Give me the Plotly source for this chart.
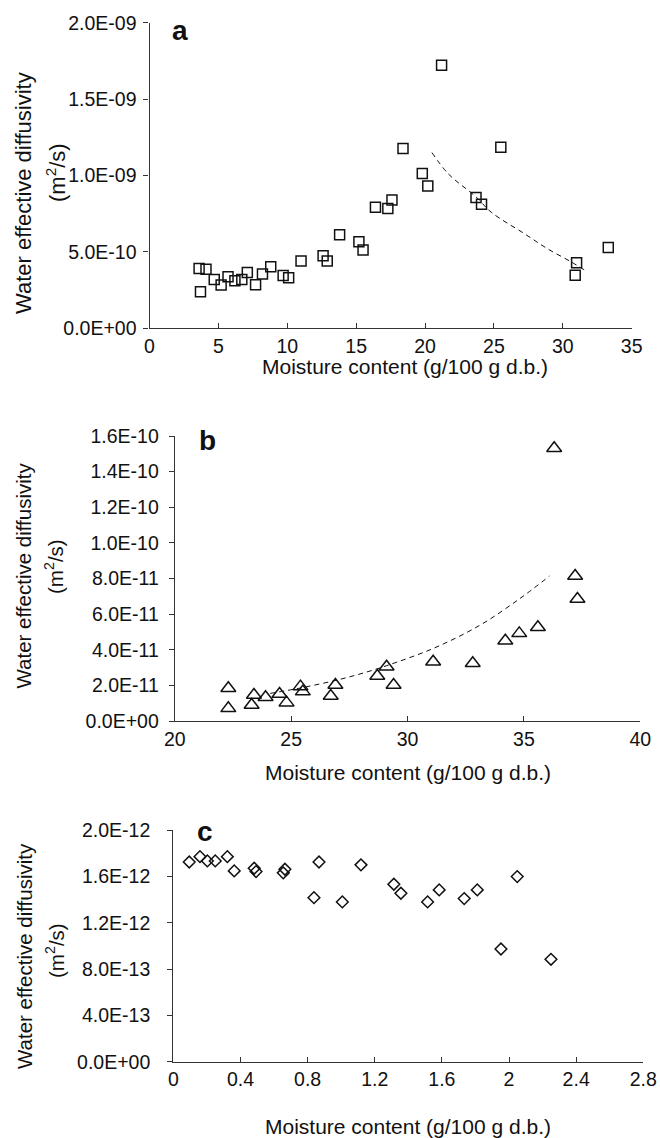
import plotly.graph_objects as go

# ---------------- data ----------------
# panel a
a_x = [3.6, 3.7, 4.1, 4.7, 5.2, 5.7, 6.2, 6.7, 7.1, 7.7, 8.2, 8.8, 9.7, 10.1, 11.0,
       12.6, 12.9, 13.8, 15.2, 15.5, 16.4, 17.3, 17.6, 18.4, 19.8, 20.2, 21.2,
       23.7, 24.1, 25.5, 30.9, 31.0, 33.3]
a_y = [3.92e-10, 2.39e-10, 3.86e-10, 3.20e-10, 2.83e-10, 3.37e-10, 3.11e-10, 3.20e-10,
       3.66e-10, 2.85e-10, 3.55e-10, 4.03e-10, 3.46e-10, 3.31e-10, 4.40e-10, 4.75e-10,
       4.40e-10, 6.12e-10, 5.66e-10, 5.12e-10, 7.93e-10, 7.84e-10, 8.39e-10, 1.176e-09,
       1.013e-09, 9.32e-10, 1.721e-09, 8.56e-10, 8.12e-10, 1.185e-09, 3.48e-10,
       4.29e-10, 5.29e-10]
a_fit_x = [20.5, 21.7, 23.7, 24.8, 27.2, 28.9, 30.6, 31.6]
a_fit_y = [1.15e-09, 1.01e-09, 8.6e-10, 7.6e-10, 6.2e-10, 5.2e-10, 4.35e-10, 3.8e-10]

# panel b
b_x = [22.3, 22.3, 23.4, 23.3, 23.9, 24.5, 24.8, 25.4, 25.5, 26.9, 26.7, 28.7, 29.1,
       29.4, 31.1, 32.8, 34.2, 34.8, 35.6, 36.3, 37.2, 37.3]
b_y = [1.84e-11, 0.71e-11, 1.46e-11, 0.90e-11, 1.33e-11, 1.52e-11, 1.03e-11, 1.93e-11,
       1.65e-11, 2.02e-11, 1.40e-11, 2.53e-11, 3.05e-11, 2.02e-11, 3.33e-11, 3.24e-11,
       4.51e-11, 4.92e-11, 5.26e-11, 1.531e-10, 8.14e-11, 6.85e-11]
b_fit_x = [24.1, 25.5, 27.1, 28.5, 29.2, 31.1, 33.1, 34.8, 36.1]
b_fit_y = [1.55e-11, 1.88e-11, 2.34e-11, 2.85e-11, 3.15e-11, 4.07e-11, 5.37e-11,
           6.85e-11, 8.14e-11]

# panel c
c_x = [0.095, 0.159, 0.203, 0.25, 0.322, 0.363, 0.482, 0.493, 0.655, 0.665, 0.868,
       0.838, 1.007, 1.118, 1.314, 1.356, 1.515, 1.584, 1.733, 1.811, 2.049, 1.952, 2.25]
c_y = [1.724e-12, 1.77e-12, 1.733e-12, 1.733e-12, 1.77e-12, 1.647e-12, 1.67e-12,
       1.641e-12, 1.63e-12, 1.661e-12, 1.724e-12, 1.416e-12, 1.379e-12, 1.699e-12,
       1.532e-12, 1.454e-12, 1.379e-12, 1.483e-12, 1.408e-12, 1.483e-12, 1.598e-12,
       0.973e-12, 0.884e-12]

# tick labels
a_xticks = [0, 5, 10, 15, 20, 25, 30, 35]
a_yticks = [0, 5e-10, 1e-09, 1.5e-09, 2e-09]
a_yticktext = ["0.0E+00", "5.0E-10", "1.0E-09", "1.5E-09", "2.0E-09"]
b_xticks = [20, 25, 30, 35, 40]
b_yticks = [0, 2e-11, 4e-11, 6e-11, 8e-11, 1e-10, 1.2e-10, 1.4e-10, 1.6e-10]
b_yticktext = ["0.0E+00", "2.0E-11", "4.0E-11", "6.0E-11", "8.0E-11", "1.0E-10",
               "1.2E-10", "1.4E-10", "1.6E-10"]
c_xticks = [0, 0.4, 0.8, 1.2, 1.6, 2.0, 2.4, 2.8]
c_xticktext = ["0", "0.4", "0.8", "1.2", "1.6", "2", "2.4", "2.8"]
c_yticks = [0, 4e-13, 8e-13, 1.2e-12, 1.6e-12, 2e-12]
c_yticktext = ["0.0E+00", "4.0E-13", "8.0E-13", "1.2E-12", "1.6E-12", "2.0E-12"]

x_title = "Moisture content (g/100 g d.b.)"
y_title1 = "Water effective diffusivity"
y_title2 = "(m<sup>2</sup>/s)"

# ---------------- figure ----------------
W, H = 660, 1138
FONT = "Liberation Sans, Arial, Helvetica, sans-serif"
INK = "#111111"
AX = "#333333"
TICK_SIZE = 19.5
TITLE_SIZE = 20.5
XTITLE_SIZE = 21

def px(xp):
    return xp / W

def py(yp):
    return 1 - yp / H

fig = go.Figure()

mk_line = dict(color=INK, width=1.5)
fig.add_trace(go.Scatter(x=a_x, y=a_y, mode="markers", xaxis="x", yaxis="y",
                         marker=dict(symbol="square-open", size=10, color=INK, line=mk_line)))
fig.add_trace(go.Scatter(x=a_fit_x, y=a_fit_y, mode="lines", xaxis="x", yaxis="y",
                         line=dict(color=INK, width=1, dash="5px,4px", shape="spline")))
fig.add_trace(go.Scatter(x=b_x, y=b_y, mode="markers", xaxis="x2", yaxis="y2",
                         marker=dict(symbol="triangle-up-open", size=13, color=INK, line=mk_line)))
fig.add_trace(go.Scatter(x=b_fit_x, y=b_fit_y, mode="lines", xaxis="x2", yaxis="y2",
                         line=dict(color=INK, width=1, dash="5px,4px", shape="spline")))
fig.add_trace(go.Scatter(x=c_x, y=c_y, mode="markers", xaxis="x3", yaxis="y3",
                         marker=dict(symbol="diamond-open", size=9, color=INK, line=mk_line)))

tickfont = dict(family=FONT, size=TICK_SIZE, color=INK)

def xax(domain, rng, tv, tt, anchor):
    return dict(domain=domain, range=rng, tickvals=tv, ticktext=tt, anchor=anchor,
                showline=True, linecolor=AX, linewidth=1.2, showgrid=False, zeroline=False,
                ticks="inside", ticklen=5, tickcolor=AX, tickwidth=1, tickfont=tickfont,
                automargin=False, fixedrange=True)

def yax(domain, rng, tv, tt, anchor, standoff):
    return dict(domain=domain, range=rng, tickvals=tv, ticktext=tt, anchor=anchor,
                showline=True, linecolor=AX, linewidth=1.2, showgrid=False, zeroline=False,
                ticks="outside", ticklen=5, tickcolor=AX, tickwidth=1, tickfont=tickfont,
                ticklabelstandoff=standoff, automargin=False, fixedrange=True)

fig.update_layout(
    width=W, height=H,
    margin=dict(l=0, r=0, t=0, b=0, autoexpand=False),
    paper_bgcolor="white", plot_bgcolor="white",
    showlegend=False,
    font=dict(family=FONT, size=TITLE_SIZE, color=INK),
    xaxis=xax([px(149.5), px(631.7)], [0, 35], a_xticks, [str(v) for v in a_xticks], "y"),
    yaxis=yax([py(328.3), py(22.7)], [0, 2e-09], a_yticks, a_yticktext, "x", 3),
    xaxis2=xax([px(174.8), px(640.3)], [20, 40], b_xticks, [str(v) for v in b_xticks], "y2"),
    yaxis2=yax([py(721), py(436)], [0, 1.6e-10], b_yticks, b_yticktext, "x2", 6),
    xaxis3=xax([px(173.3), px(643.3)], [0, 2.8], c_xticks, c_xticktext, "y3"),
    yaxis3=yax([py(1061.7), py(830)], [0, 2e-12], c_yticks, c_yticktext, "x3", 13),
)

ann = []
def add_text(text, xp, yp, size=TITLE_SIZE, bold=False, angle=0):
    ann.append(dict(text=("<b>%s</b>" % text) if bold else text, x=px(xp), y=py(yp),
                    xref="paper", yref="paper", showarrow=False, textangle=angle,
                    xanchor="center", yanchor="middle",
                    font=dict(family=FONT, size=size, color=INK)))

# panel letters
add_text("a", 180, 31, size=28, bold=True)
add_text("b", 208, 440, size=28, bold=True)
add_text("c", 204.5, 831, size=28, bold=True)

# x titles
add_text(x_title, 405, 366, size=XTITLE_SIZE)
add_text(x_title, 408, 772, size=XTITLE_SIZE)
add_text(x_title, 408.3, 1126, size=XTITLE_SIZE)

# y titles
add_text(y_title1, 24, 193, size=22, angle=-90)
add_text(y_title2, 56, 173, size=22, angle=-90)
add_text(y_title1, 22.5, 576, angle=-90)
add_text(y_title2, 54, 567, angle=-90)
add_text(y_title1, 24, 956, angle=-90)
add_text(y_title2, 55, 951, angle=-90)

fig.update_layout(annotations=ann)

fig.write_html("out.html",
               config={"displayModeBar": False},
               post_script="document.body.style.margin='0';document.body.style.overflow='hidden';")
